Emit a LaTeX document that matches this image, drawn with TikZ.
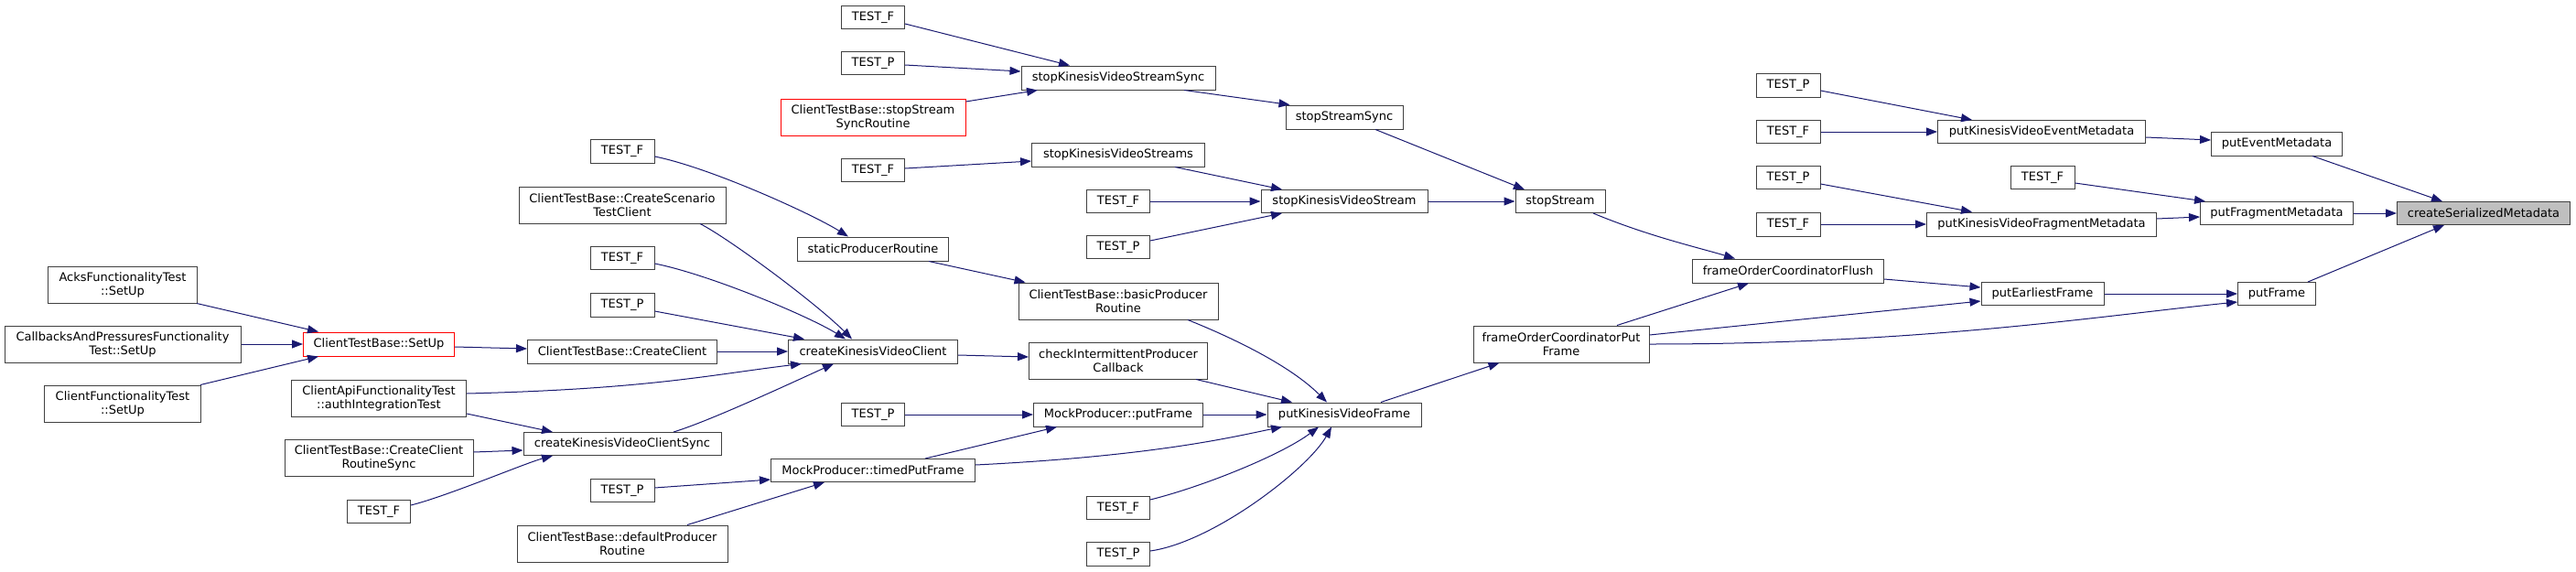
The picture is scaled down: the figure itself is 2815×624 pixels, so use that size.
\documentclass[tikz,border=0pt]{standalone}
\usepackage{fontspec}
\setmainfont{DejaVu Sans}
\usetikzlibrary{arrows.meta,calc}
\definecolor{edgecol}{HTML}{191970}
\definecolor{boxcol}{HTML}{404040}
\definecolor{rootfill}{HTML}{BFBFBF}
\begin{document}
\begin{tikzpicture}[x=1pt,y=-1pt,
  fn/.style={draw=boxcol,line width=1pt,fill=white,inner sep=0pt,align=center,font=\fontsize{13}{15}\selectfont,text=black},
  redfn/.style={fn,draw=red},
  rootfn/.style={fn,fill=rootfill},
  call/.style={draw=edgecol,line width=1pt,-{Triangle[length=12pt,width=9pt]}}]
\useasboundingbox (0,0) rectangle (2815,624);
% column 1
\node[fn,minimum width=163pt,minimum height=40pt] (acks) at (134,311) {AcksFunctionalityTest\\::SetUp};
\node[fn,minimum width=258pt,minimum height=40pt] (callbacks) at (134,376) {CallbacksAndPressuresFunctionality\\Test::SetUp};
\node[fn,minimum width=171pt,minimum height=40pt] (cft) at (134,441) {ClientFunctionalityTest\\::SetUp};
% column 2
\node[redfn,minimum width=165pt,minimum height=26pt] (setup) at (414,376) {ClientTestBase::SetUp};
\node[fn,minimum width=191pt,minimum height=40pt] (auth) at (414,435) {ClientApiFunctionalityTest\\::authIntegrationTest};
\node[fn,minimum width=206pt,minimum height=40pt] (ccrs) at (414,500) {ClientTestBase::CreateClient\\RoutineSync};
\node[fn,minimum width=69pt,minimum height=25pt] (tf1) at (414,559) {TEST\_F};
% column 3
\node[fn,minimum width=70pt,minimum height=26pt] (tf2) at (680,165) {TEST\_F};
\node[fn,minimum width=226pt,minimum height=40pt] (cstc) at (680,224) {ClientTestBase::CreateScenario\\TestClient};
\node[fn,minimum width=70pt,minimum height=25pt] (tf3) at (680,282) {TEST\_F};
\node[fn,minimum width=70pt,minimum height=26pt] (tp1) at (680,333) {TEST\_P};
\node[fn,minimum width=207pt,minimum height=26pt] (cc) at (680,384) {ClientTestBase::CreateClient};
\node[fn,minimum width=216pt,minimum height=25pt] (ckvcs) at (680,485) {createKinesisVideoClientSync};
\node[fn,minimum width=70pt,minimum height=25pt] (tp2) at (680,536) {TEST\_P};
\node[fn,minimum width=230pt,minimum height=40pt] (dpr) at (680,594) {ClientTestBase::defaultProducer\\Routine};
% column 4
\node[fn,minimum width=69pt,minimum height=25pt] (tf4) at (954,19) {TEST\_F};
\node[fn,minimum width=69pt,minimum height=25pt] (tp3) at (954,69) {TEST\_P};
\node[redfn,minimum width=202pt,minimum height=40pt] (sssr) at (954,128) {ClientTestBase::stopStream\\SyncRoutine};
\node[fn,minimum width=69pt,minimum height=25pt] (tf5) at (954,186) {TEST\_F};
\node[fn,minimum width=165pt,minimum height=26pt] (spr) at (954,272) {staticProducerRoutine};
\node[fn,minimum width=185pt,minimum height=26pt] (ckvc) at (954,384) {createKinesisVideoClient};
\node[fn,minimum width=69pt,minimum height=25pt] (tp4) at (954,453) {TEST\_P};
\node[fn,minimum width=223pt,minimum height=25pt] (tpf) at (954,514) {MockProducer::timedPutFrame};
% column 5
\node[fn,minimum width=212pt,minimum height=26pt] (skvss) at (1222,85) {stopKinesisVideoStreamSync};
\node[fn,minimum width=189pt,minimum height=26pt] (skvsS) at (1222,169) {stopKinesisVideoStreams};
\node[fn,minimum width=69pt,minimum height=25pt] (tf6) at (1222,220) {TEST\_F};
\node[fn,minimum width=69pt,minimum height=25pt] (tp5) at (1222,270) {TEST\_P};
\node[fn,minimum width=218pt,minimum height=40pt] (bpr) at (1222,329) {ClientTestBase::basicProducer\\Routine};
\node[fn,minimum width=195pt,minimum height=40pt] (cipc) at (1222,394) {checkIntermittentProducer\\Callback};
\node[fn,minimum width=185pt,minimum height=26pt] (mpf) at (1222,453) {MockProducer::putFrame};
\node[fn,minimum width=69pt,minimum height=25pt] (tf7) at (1222,555) {TEST\_F};
\node[fn,minimum width=69pt,minimum height=26pt] (tp6) at (1222,605) {TEST\_P};
% column 6
\node[fn,minimum width=128pt,minimum height=26pt] (sss) at (1469,128) {stopStreamSync};
\node[fn,minimum width=182pt,minimum height=25pt] (skvs) at (1469,220) {stopKinesisVideoStream};
\node[fn,minimum width=168pt,minimum height=26pt] (pkvf) at (1469,453) {putKinesisVideoFrame};
% column 7
\node[fn,minimum width=98pt,minimum height=25pt] (ss) at (1705,220) {stopStream};
\node[fn,minimum width=192pt,minimum height=40pt] (focpf) at (1706,376) {frameOrderCoordinatorPut\\Frame};
% column 8
\node[fn,minimum width=70pt,minimum height=26pt] (tp7) at (1954,93) {TEST\_P};
\node[fn,minimum width=70pt,minimum height=25pt] (tf8) at (1954,144) {TEST\_F};
\node[fn,minimum width=70pt,minimum height=25pt] (tp8) at (1954,194) {TEST\_P};
\node[fn,minimum width=70pt,minimum height=26pt] (tf9) at (1954,245) {TEST\_F};
\node[fn,minimum width=209pt,minimum height=26pt] (focf) at (1954,296) {frameOrderCoordinatorFlush};
% column 9
\node[fn,minimum width=227pt,minimum height=25pt] (pkvem) at (2231,144) {putKinesisVideoEventMetadata};
\node[fn,minimum width=70pt,minimum height=25pt] (tf10) at (2232,194) {TEST\_F};
\node[fn,minimum width=251pt,minimum height=26pt] (pkvfm) at (2231,245) {putKinesisVideoFragmentMetadata};
\node[fn,minimum width=134pt,minimum height=25pt] (pef) at (2232,321) {putEarliestFrame};
% column 10
\node[fn,minimum width=143pt,minimum height=26pt] (pem) at (2488,157) {putEventMetadata};
\node[fn,minimum width=167pt,minimum height=25pt] (pfm) at (2488,233) {putFragmentMetadata};
\node[fn,minimum width=85pt,minimum height=25pt] (pf) at (2488,321) {putFrame};
% root
\node[rootfn,minimum width=189pt,minimum height=25pt] (csm) at (2714,233) {createSerializedMetadata};

% edges
\draw[call] ($(pem.south)+(39,0)$) -- ($(csm.north)+(-45,0)$);
\draw[call] (pfm.east) -- (csm.west);
\draw[call] ($(pf.north)+(34,0)$) -- ($(csm.south)+(-43,0)$);
\draw[call] ($(pkvem.east)+(0,6)$) -- ($(pem.west)+(0,-4)$);
\draw[call] ($(tf10.east)+(0,6)$) -- ($(pfm.north west)+(6,0)$);
\draw[call] ($(pkvfm.east)+(0,-6)$) -- ($(pfm.west)+(0,4)$);
\draw[call] (pef.east) -- (pf.west);
\draw[call] (focpf.east) .. controls +(300,0) and +(-150,15) .. ($(pf.west)+(0,9)$);
\draw[call] ($(tp7.east)+(0,6)$) -- ($(pkvem.north west)+(38,0)$);
\draw[call] (tf8.east) -- (pkvem.west);
\draw[call] ($(tp8.east)+(0,7)$) -- ($(pkvfm.north west)+(50,0)$);
\draw[call] (tf9.east) -- (pkvfm.west);
\draw[call] ($(focf.east)+(0,9)$) -- ($(pef.west)+(0,-7)$);
\draw[call] ($(focpf.east)+(0,-10)$) -- ($(pef.west)+(0,8)$);
\draw[call] ($(ss.south)+(36,0)$) .. controls +(60,25) and +(-40,-12) .. ($(focf.north)+(-58,0)$);
\draw[call] ($(focpf.north)+(61,0)$) -- ($(focf.south)+(-43,0)$);
\draw[call] ($(sss.south)+(34,0)$) -- ($(ss.north)+(-39,0)$);
\draw[call] (skvs.east) -- (ss.west);
\draw[call] ($(pkvf.north)+(40,0)$) -- ($(focpf.south west)+(29,0)$);
\draw[call] ($(skvss.south)+(72,0)$) -- ($(sss.north west)+(5,0)$);
\draw[call] ($(skvsS.south)+(62,0)$) -- ($(skvs.north)+(-68,0)$);
\draw[call] (tf6.east) -- (skvs.west);
\draw[call] ($(tp5.east)+(0,-7)$) -- ($(skvs.south)+(-68,0)$);
\draw[call] ($(tf4.east)+(0,7)$) -- ($(skvss.north)+(-53,0)$);
\draw[call] ($(tp3.east)+(0,2)$) -- ($(skvss.west)+(0,-7)$);
\draw[call] ($(sssr.east)+(0,-17)$) -- ($(skvss.south)+(-88,0)$);
\draw[call] ($(tf5.east)+(0,-2)$) -- ($(skvsS.west)+(0,7)$);
\draw[call] ($(bpr.south)+(76,0)$) .. controls +(50,20) and +(-40,-40) .. ($(pkvf.north)+(-19,0)$);
\draw[call] ($(cipc.south)+(85,0)$) -- ($(pkvf.north)+(-57,0)$);
\draw[call] (mpf.east) -- (pkvf.west);
\draw[call] ($(tpf.east)+(0,-6)$) .. controls +(200,-10) and +(-50,10) .. ($(pkvf.south)+(-68,0)$);
\draw[call] ($(tf7.east)+(0,-9)$) .. controls +(60,-15) and +(-40,30) .. ($(pkvf.south)+(-28,0)$);
\draw[call] ($(tp6.east)+(0,-3)$) .. controls +(70,-10) and +(-25,45) .. ($(pkvf.south)+(-14,0)$);
\draw[call] ($(spr.south)+(61,0)$) -- ($(bpr.north west)+(8,0)$);
\draw[call] ($(ckvc.east)+(0,4)$) -- ($(cipc.west)+(0,-4)$);
\draw[call] (tp4.east) -- (mpf.west);
\draw[call] ($(tpf.north)+(57,0)$) -- ($(mpf.south west)+(26,0)$);
\draw[call] ($(tf2.east)+(0,6)$) .. controls +(60,12) and +(-40,-25) .. ($(spr.north)+(-27,0)$);
\draw[call] ($(cstc.south)+(85,0)$) .. controls +(30,15) and +(-40,-40) .. ($(ckvc.north)+(-23,0)$);
\draw[call] ($(tf3.east)+(0,6)$) .. controls +(60,12) and +(-40,-25) .. ($(ckvc.north)+(-30,0)$);
\draw[call] ($(tp1.east)+(0,7)$) -- ($(ckvc.north)+(-75,0)$);
\draw[call] (cc.east) -- (ckvc.west);
\draw[call] ($(auth.east)+(0,-5)$) .. controls +(200,-5) and +(-100,12) .. ($(ckvc.south)+(-78,0)$);
\draw[call] ($(ckvcs.north)+(56,0)$) .. controls +(40,-12) and +(-40,18) .. ($(ckvc.south)+(-43,0)$);
\draw[call] ($(tp2.east)+(0,-3)$) -- ($(tpf.west)+(0,10)$);
\draw[call] ($(dpr.north)+(71,0)$) -- ($(tpf.south)+(-53,0)$);
\draw[call] ($(setup.east)+(0,3)$) -- ($(cc.west)+(0,-3)$);
\draw[call] ($(auth.east)+(0,17)$) -- ($(ckvcs.north)+(-76,0)$);
\draw[call] ($(ccrs.east)+(0,-6)$) -- ($(ckvcs.west)+(0,7)$);
\draw[call] ($(tf1.east)+(0,-7)$) .. controls +(40,-10) and +(-30,8) .. ($(ckvcs.south)+(-76,0)$);
\draw[call] ($(acks.south)+(81,0)$) -- ($(setup.north)+(-66,0)$);
\draw[call] (callbacks.east) -- (setup.west);
\draw[call] ($(cft.north)+(85,0)$) -- ($(setup.south)+(-66,0)$);
\end{tikzpicture}
\end{document}
